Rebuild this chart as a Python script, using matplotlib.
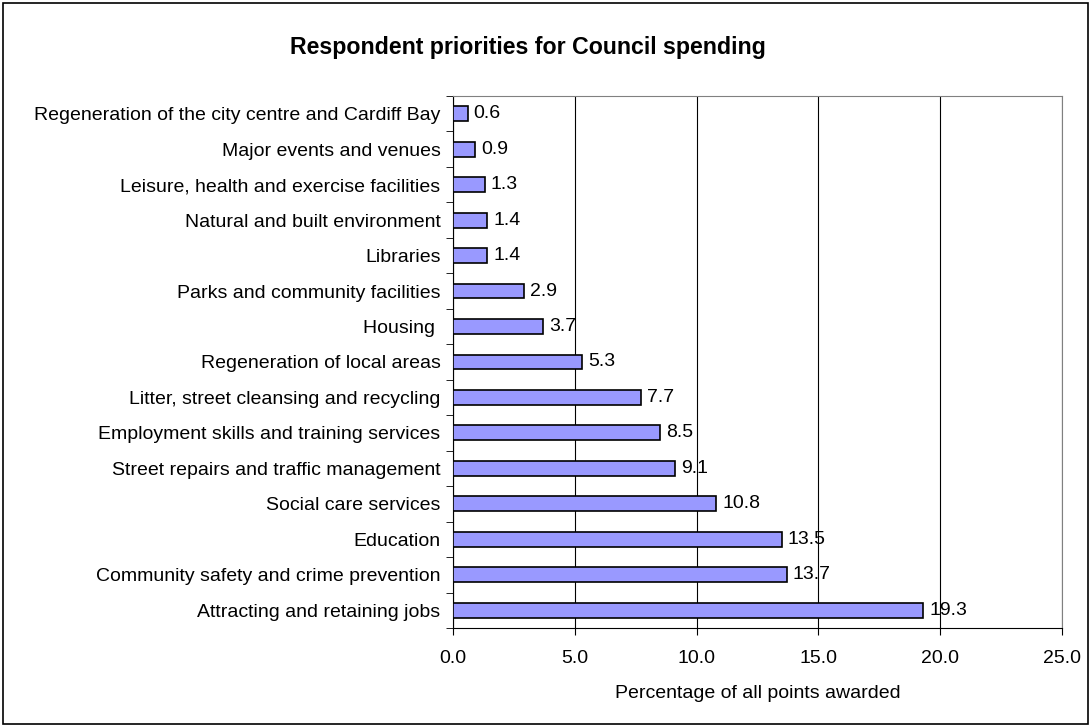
import matplotlib
matplotlib.use("Agg")
import matplotlib.pyplot as plt
from matplotlib.patches import Rectangle

plt.rcParams['font.family'] = ['Liberation Sans', 'DejaVu Sans']

categories = [
    "Regeneration of the city centre and Cardiff Bay",
    "Major events and venues",
    "Leisure, health and exercise facilities",
    "Natural and built environment",
    "Libraries",
    "Parks and community facilities",
    "Housing ",
    "Regeneration of local areas",
    "Litter, street cleansing and recycling",
    "Employment skills and training services",
    "Street repairs and traffic management",
    "Social care services",
    "Education",
    "Community safety and crime prevention",
    "Attracting and retaining jobs",
]
values = [0.6, 0.9, 1.3, 1.4, 1.4, 2.9, 3.7, 5.3, 7.7, 8.5, 9.1, 10.8, 13.5, 13.7, 19.3]
xticks = [0, 5, 10, 15, 20, 25]

fig = plt.figure(figsize=(10.91, 7.27), dpi=100)
fig.patches.append(Rectangle((0.003, 0.004), 0.994, 0.992, transform=fig.transFigure,
                             fill=False, edgecolor='black', linewidth=1.2))
ax = fig.add_axes([0.4152, 0.1362, 0.5582, 0.7318])

ypos = list(range(len(categories)))
ax.barh(ypos, values, height=0.42, color='#9999FF', edgecolor='black', linewidth=1.2, zorder=3)
for y, v in zip(ypos, values):
    ax.text(v + 0.25, y, f"{v:.1f}", va='center', ha='left', fontsize=14, zorder=4)

ax.set_xlim(0, 25)
ax.set_ylim(len(categories) - 0.5, -0.5)
ax.set_xticks(xticks)
ax.set_xticklabels([f"{t:.1f}" for t in xticks], fontsize=14)
ax.set_yticks(ypos)
ax.set_yticklabels(categories, fontsize=14)
ax.set_yticks([i - 0.5 for i in range(len(categories) + 1)], minor=True)
ax.tick_params(axis='y', which='major', length=0, pad=9)
ax.tick_params(axis='y', which='minor', length=5, direction='out')
ax.tick_params(axis='x', length=5, direction='out', pad=11)
ax.xaxis.grid(True, color='black', linewidth=0.8, zorder=0)
ax.set_axisbelow(True)
for s in ['top', 'right']:
    ax.spines[s].set_color('#808080')
for s in ['left', 'bottom']:
    ax.spines[s].set_color('black')

ax.set_xlabel("Percentage of all points awarded", fontsize=14, labelpad=13)
fig.text(0.4835, 0.934, "Respondent priorities for Council spending", ha='center', va='center',
         fontsize=16.7, fontweight='bold')

fig.savefig("out.png", dpi=100)
